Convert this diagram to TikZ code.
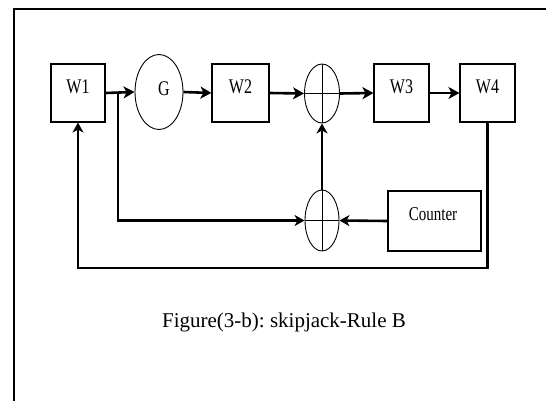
\documentclass[tikz,border=0pt]{standalone}
\usepackage{fontspec}
\setmainfont{Liberation Serif}
\usetikzlibrary{shapes.geometric,arrows.meta}
\newcommand{\tallt}[1]{\scalebox{1}[1.3]{#1}}
\begin{document}
\begin{tikzpicture}[x=1pt,y=-1pt,
  blk/.style={draw,line width=1.1pt,inner sep=0pt,minimum width=55pt,minimum height=58pt},
  lbl/.style={inner sep=0pt,font=\fontsize{16}{16}\selectfont},
  oval/.style={draw,ellipse,line width=0.9pt,inner sep=0pt},
  flow/.style={line width=2.6pt,-{Stealth[length=11pt,width=12pt,inset=3pt]}},
  link/.style={line width=2.2pt,-{Stealth[length=10pt,width=11pt,inset=3pt]}},
  cross/.style={line width=0.9pt}]
\useasboundingbox (0,0) rectangle (546,401);
\draw[line width=1.5pt] (14,401) -- (14,9) -- (546,9);
% blocks
\node[blk,minimum width=54pt] (W1) at (78,93) {};
\node[lbl] (W1t) at (78,87) {\tallt{W1}};
\node[oval,minimum width=48pt,minimum height=75pt] (G) at (159,92) {};
\node[lbl,font=\fontsize{16}{16}\selectfont] (Gt) at (164,89) {\tallt{G}};
\node[blk,minimum width=57pt] (W2) at (240.5,93) {};
\node[lbl] (W2t) at (240.5,87) {\tallt{W2}};
\node[oval,minimum width=35pt,minimum height=59pt] (S1) at (322,93.5) {};
\node[blk] (W3) at (401.5,93) {};
\node[lbl] (W3t) at (401.5,87) {\tallt{W3}};
\node[blk] (W4) at (487.5,93) {};
\node[lbl] (W4t) at (487.5,87) {\tallt{W4}};
\node[oval,minimum width=34pt,minimum height=61pt] (S2) at (322,220.5) {};
\node[blk,minimum width=93pt,minimum height=60pt] (C) at (434.5,221) {};
\node[lbl,font=\fontsize{15}{15}\selectfont] (Ct) at (433,214) {\tallt{Counter}};
% crosses
\draw[cross] (S1.north) -- (S1.south);
\draw[cross,line width=1.8pt] (S1.west) -- (S1.east);
\draw[cross] (S2.north) -- (S2.south);
\draw[cross] (S2.west) -- (S2.east);
% main flow
\draw[flow] (W1.east) -- (G.west);
\draw[flow] (G.east) -- (W2.west);
\draw[flow] (W2.east) -- (S1.west);
\draw[flow] (S1.east) -- (W3.west);
\draw[flow] (W3.east) -- (W4.west);
% branch
\coordinate (B) at (118,93);
\draw[link,line width=2.6pt] (B) |- (S2.west);
\draw[link,line width=2.6pt] (C.west) -- (S2.east);
\draw[link] (S2.north) -- (S1.south);
% feedback
\coordinate (BL) at (0,268);
\draw[link,line width=2.6pt] (W4.south) -- (W4.south |- BL) -| (W1.south);
% caption
\node[inner sep=0pt,font=\fontsize{21}{22}\selectfont] (cap) at (284,322) {Figure(3-b):\ skipjack-Rule B};
\end{tikzpicture}
\end{document}
